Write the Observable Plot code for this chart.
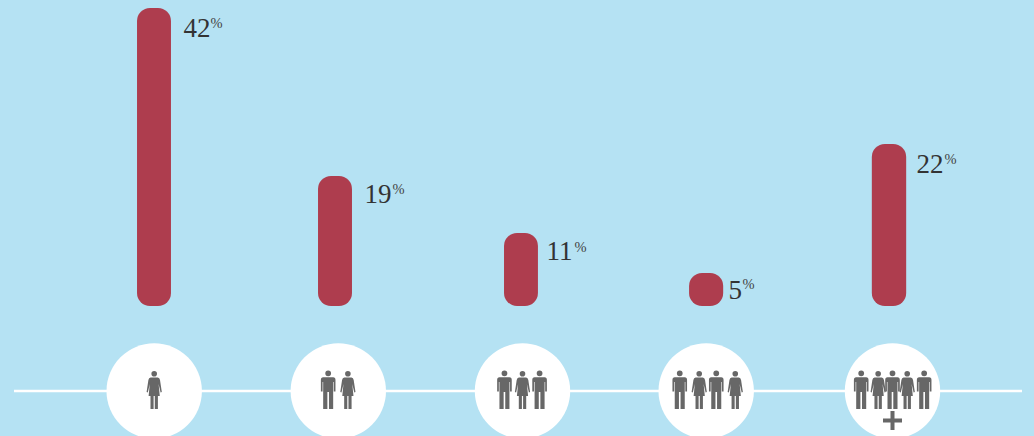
<!DOCTYPE html>
<html>
<head>
<meta charset="utf-8">
<script src="https://cdn.jsdelivr.net/npm/d3@7"></script>
<script src="https://cdn.jsdelivr.net/npm/@observablehq/plot@0.6"></script>
<style>
html,body{margin:0;padding:0;background:#b5e2f3;overflow:hidden}
svg{display:block}
</style>
</head>
<body>
<div id="chart"></div>
<script>
// Data
const groups = [0, 1, 2, 3, 4];
const shares = [42, 19, 11, 5, 22];
const men = [0.945, 1.902, 2.093, 2.856, 3.054, 3.832, 4, 4.170];
const women = [0, 1.052, 2, 2.962, 3.156, 3.923, 4.079];
const plusGroup = [4];

// Layout constants (pixels, kept apart from the values)
const barNudge = [0.3, -2.8, -1, 0.3, -3];
const labelGap = [29.3, 26.2, 24, 22.3, 24];
const labelDrop = [19.5, 17.5, 17.5, 16.5, 19.5];
const pctGap = [56.3, 54.2, 52, 36.3, 52];
const pctDrop = [15, 13, 14, 11, 15];
const axisLevel = -12;
const halfBar = 0.0922;

const ink = "#676767";
const man = {draw(c) {
  c.moveTo(2.9, -17.7); c.arc(0, -17.7, 2.9, 0, 2 * Math.PI); c.closePath();
  c.moveTo(-5, -13.8);
  c.lineTo(5, -13.8); c.quadraticCurveTo(7.3, -13.8, 7.3, -11);
  c.lineTo(7.3, 0.5); c.lineTo(5.6, 0.5); c.lineTo(5.6, -9); c.lineTo(5, -9);
  c.lineTo(5, 18); c.lineTo(0.8, 18); c.lineTo(0.8, 1); c.lineTo(-0.8, 1);
  c.lineTo(-0.8, 18); c.lineTo(-5, 18); c.lineTo(-5, -9); c.lineTo(-5.6, -9);
  c.lineTo(-5.6, 0.5); c.lineTo(-7.3, 0.5); c.lineTo(-7.3, -11);
  c.quadraticCurveTo(-7.3, -13.8, -5, -13.8); c.closePath();
}};
const woman = {draw(c) {
  c.moveTo(2.8, -17.3); c.arc(0, -17.3, 2.8, 0, 2 * Math.PI); c.closePath();
  c.moveTo(-3.6, -13.6);
  c.lineTo(3.6, -13.6); c.quadraticCurveTo(5.4, -13.6, 5.8, -11);
  c.lineTo(7.6, 1); c.lineTo(6.4, 1.5); c.lineTo(4.4, -7); c.lineTo(5.6, 5);
  c.lineTo(3.7, 5); c.lineTo(3.7, 18); c.lineTo(0.6, 18); c.lineTo(0.6, 5);
  c.lineTo(-0.6, 5); c.lineTo(-0.6, 18); c.lineTo(-3.7, 18); c.lineTo(-3.7, 5);
  c.lineTo(-5.6, 5); c.lineTo(-4.4, -7); c.lineTo(-6.4, 1.5); c.lineTo(-7.6, 1);
  c.lineTo(-5.8, -11); c.quadraticCurveTo(-5.4, -13.6, -3.6, -13.6); c.closePath();
}};
const plus = {draw(c) {
  const a = 9.5, t = 2;
  c.moveTo(-t, -a); c.lineTo(t, -a); c.lineTo(t, -t); c.lineTo(a, -t); c.lineTo(a, t);
  c.lineTo(t, t); c.lineTo(t, a); c.lineTo(-t, a); c.lineTo(-t, t); c.lineTo(-a, t);
  c.lineTo(-a, -t); c.lineTo(-t, -t); c.closePath();
}};

const serif = "'Liberation Serif', serif";
const table = groups.map((g, i) => ({g, v: shares[i], i}));

const plot = Plot.plot({
  width: 1034,
  height: 436,
  margin: 0,
  style: {background: "#b5e2f3", overflow: "hidden"},
  x: {type: "linear", domain: groups, range: [153.7, 337.8, 522, 705.7, 892], axis: null},
  y: {type: "linear", domain: [axisLevel, 0, 5, 11, 19, 22, 42], range: [390.5, 306, 273, 233, 176, 144, 8], axis: null},
  marks: [
    Plot.ruleY([axisLevel], {stroke: "#fff", strokeWidth: 2.6, insetLeft: 14, insetRight: 12}),
    Plot.dot(groups, {x: d => d, y: () => axisLevel, r: 47.7, fill: "#fff", stroke: "none"}),
    Plot.dot(men, {x: d => d, y: () => axisLevel, symbol: man, fill: ink, stroke: "none"}),
    Plot.dot(women, {x: d => d, y: () => axisLevel, symbol: woman, fill: ink, stroke: "none"}),
    Plot.dot(plusGroup, {x: d => d, y: () => axisLevel, dy: 29.5, symbol: plus, fill: ink, stroke: "none"}),
    ...table.flatMap(d => [
      Plot.rectY([d], {x1: e => e.g - halfBar, x2: e => e.g + halfBar, y1: 0, y2: "v", dx: barNudge[d.i], rx: 13, fill: "#ae3d4e"}),
      Plot.text([d], {x: "g", y: "v", text: e => String(e.v), dx: labelGap[d.i], dy: labelDrop[d.i], textAnchor: "start", fontFamily: serif, fontSize: 27, fill: "#333"}),
      Plot.text([d], {x: "g", y: "v", text: () => "%", dx: pctGap[d.i], dy: pctDrop[d.i], textAnchor: "start", fontFamily: serif, fontSize: 14.5, fill: "#444"})
    ])
  ]
});
document.getElementById("chart").appendChild(plot);
</script>
</body>
</html>
